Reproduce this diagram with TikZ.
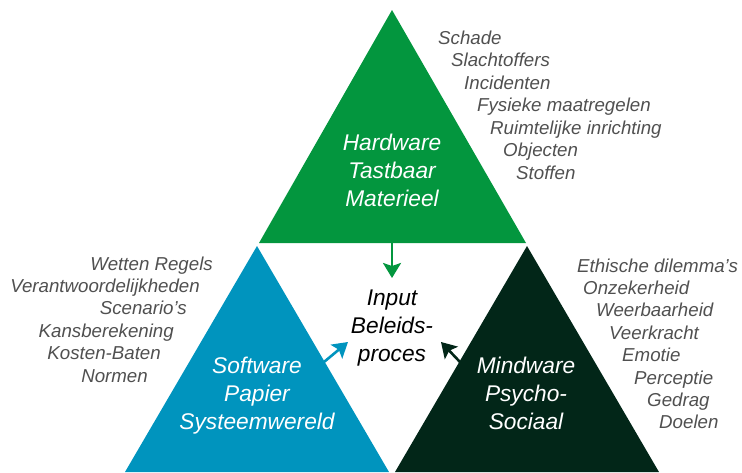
\documentclass[tikz,border=0pt]{standalone}
\usepackage{fontspec}
\setmainfont{Liberation Sans}
\usetikzlibrary{arrows.meta}
\definecolor{hwgreen}{RGB}{3,150,62}
\definecolor{swblue}{RGB}{0,148,190}
\definecolor{mwdark}{RGB}{2,38,24}
\definecolor{listgray}{RGB}{80,80,80}
\begin{document}
\begin{tikzpicture}[x=1pt, y=-1pt,
    heading/.style={font=\fontsize{22.7}{28}\selectfont\itshape, align=center, inner sep=0pt},
    entry/.style={font=\fontsize{18.7}{22}\selectfont\itshape, text=listgray, inner sep=0pt},
    feed/.style={line width=2.6pt, -{Stealth[width=18pt, length=15pt, inset=3pt]}}]
\useasboundingbox (0,0) rectangle (742,472);
% the three triangles
\coordinate (hwtop) at (392,10);
\coordinate (hwleft) at (259,243);
\coordinate (hwright) at (526,243);
\coordinate (swtop) at (257,246);
\coordinate (swleft) at (125,472);
\coordinate (swright) at (389,472);
\coordinate (mwtop) at (527,246);
\coordinate (mwleft) at (395,472);
\coordinate (mwright) at (659,472);
\fill[hwgreen] (hwtop) -- (hwleft) -- (hwright) -- cycle;
\fill[swblue] (swtop) -- (swleft) -- (swright) -- cycle;
\fill[mwdark] (mwtop) -- (mwleft) -- (mwright) -- cycle;

\node[heading, text=white] (hw) at (392,170) {Hardware\\Tastbaar\\Materieel};
\node[heading, text=white] (sw) at (257,396) {Software\\Papier\\Systeemwereld};
\node[heading, text=white] (mw) at (526,393) {Mindware\\Psycho-\\Sociaal};
\node[heading] (input) at (392,328) {Input\\Beleids-\\proces};

% arrows into the input
\coordinate (hwout) at (392,243);
\coordinate (hwin) at (392,278);
\coordinate (swout) at (324,362);
\coordinate (swin) at (348,342);
\coordinate (mwout) at (460,362);
\coordinate (mwin) at (441,342);
\draw[feed, hwgreen] (hwout) -- (hwin);
\draw[feed, swblue] (swout) -- (swin);
\draw[feed, mwdark] (mwout) -- (mwin);

% lists
\foreach \t [count=\i from 0] in {Schade, Slachtoffers, Incidenten, Fysieke maatregelen,
    Ruimtelijke inrichting, Objecten, Stoffen}
  \node[entry, anchor=base west] (hwitem\i) at (438+13*\i, 44+22.5*\i) {\t};
\foreach \t [count=\i from 0] in {Wetten Regels, Verantwoordelijkheden, Scenario's,
    Kansberekening, Kosten-Baten, Normen}
  \node[entry, anchor=base east] (switem\i) at (213-13*\i, 270+22.4*\i) {\t};
\foreach \t/\px [count=\i from 0] in {Ethische dilemma's/577, Onzekerheid/583,
    Weerbaarheid/596, Veerkracht/609, Emotie/622, Perceptie/634, Gedrag/647, Doelen/659}
  \node[entry, anchor=base west] (mwitem\i) at (\px, 272+22.4*\i) {\t};
\end{tikzpicture}
\end{document}
